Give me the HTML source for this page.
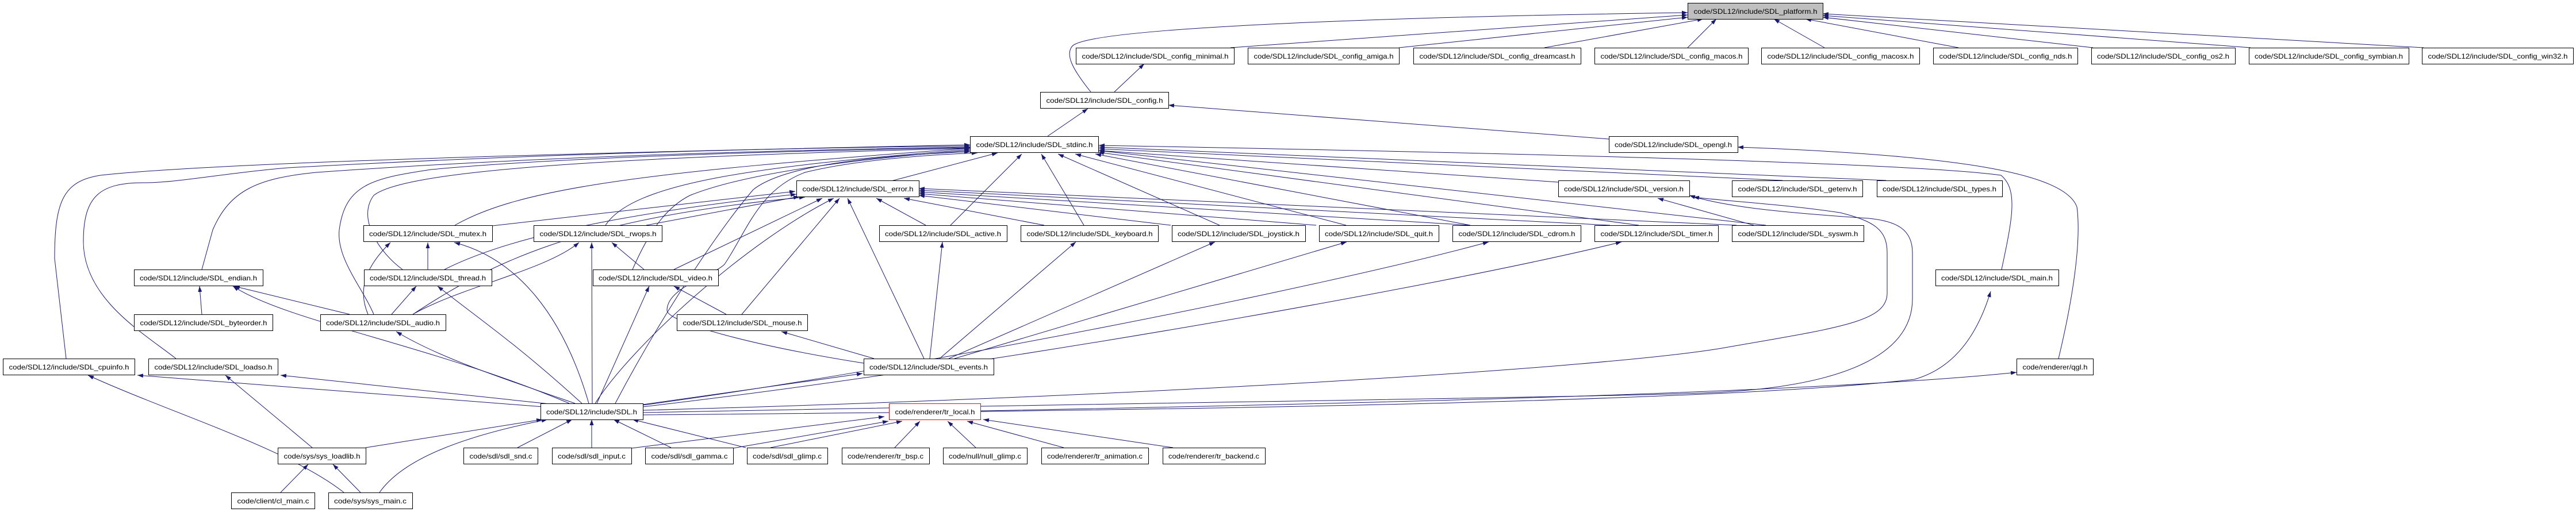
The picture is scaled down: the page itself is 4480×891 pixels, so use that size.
<!DOCTYPE html>
<html><head><meta charset="utf-8"><style>
html,body{margin:0;padding:0;background:#fff;}
svg{display:block;}
text{font-family:"Liberation Sans",sans-serif;font-size:12px;fill:#000;}
</style></head><body>
<svg width="4480" height="891" viewBox="0 0 4480 891" xmlns="http://www.w3.org/2000/svg">
<defs><marker id="a" markerWidth="10" markerHeight="7" refX="10" refY="3.5" orient="auto" markerUnits="userSpaceOnUse"><path d="M0,0 L10,3.5 L0,7 z" fill="#191970"/></marker></defs>
<g fill="none" stroke="#191970" stroke-width="1" marker-end="url(#a)">
<path d="M2140,83 L2935,26"/><path d="M2433,83 L2935,30"/><path d="M2686,83 L2962,33"/><path d="M2935,83 L2985,33"/>
<path d="M3173,83 L3085,33"/><path d="M3406,83 L3140,33"/><path d="M3640,83 L3170,30"/><path d="M3914,83 L3170,27"/><path d="M4215,83 L3170,24"/>
<path d="M1897,160 C1865,120 1852,95 1865,80 C1900,45 2500,28 2935,22"/>
<path d="M1938,160 L1990,111"/><path d="M1822,237 L1892,189"/><path d="M2798,242 L2032,183"/>
<path d="M3580,624 C3605,520 3620,420 3612,360 C3590,300 3400,270 3022,256"/>
<path d="M1550,315 L1735,266"/><path d="M1653,392 L1777,268"/><path d="M1885,392 L1811,268"/><path d="M2121,392 L1840,268"/>
<path d="M2341,392 L1870,268"/><path d="M2557,392 L1905,268"/><path d="M2850,392 L1910,265"/><path d="M3071,392 L1910,262"/>
<path d="M2710,317 L1911,262"/><path d="M3100,314 L1911,259"/><path d="M3280,314 L1911,256"/>
<path d="M3481,469 C3500,380 3510,330 3480,305 C3300,280 2400,262 1911,253"/>
<path d="M791,392 C900,330 1100,300 1687,258"/><path d="M1053,392 C1100,320 1300,290 1687,260"/>
<path d="M115,624 L95,450 C95,350 110,315 175,305 C400,280 1200,262 1687,252"/>
<path d="M306,624 C250,580 145,520 145,420 C145,340 175,318 250,318 C310,318 400,300 500,292 C900,270 1300,258 1687,254"/>
<path d="M351,469 L370,400 C400,330 450,310 550,300 C900,275 1300,262 1687,256"/>
<path d="M650,547 C630,500 585,450 590,400 C600,320 650,310 750,295 C1000,272 1400,262 1687,257"/>
<path d="M700,469 C660,440 620,380 650,340 C700,300 1000,275 1687,258"/>
<path d="M1100,469 C1130,400 1160,360 1200,340 C1300,300 1500,275 1687,262"/>
<path d="M1070,702 C1150,550 1250,400 1310,330 C1360,290 1500,272 1687,264"/>
<path d="M1502,632 C1300,600 1160,560 1160,540 C1160,500 1240,480 1260,460 C1300,400 1320,330 1400,300 C1500,275 1650,268 1700,266"/>
<path d="M856,393 L1383,333"/><path d="M1124,392 L1390,342"/><path d="M773,469 C850,430 1000,380 1385,338"/>
<path d="M718,547 C850,460 1000,380 1400,343"/><path d="M1172,469 L1430,345"/><path d="M1035,702 C1100,600 1300,420 1450,345"/>
<path d="M1290,547 L1460,345"/><path d="M1607,624 L1474,345"/><path d="M1610,392 L1524,345"/><path d="M1816,392 L1572,345"/>
<path d="M2036,392 L1598,340"/><path d="M2289,392 L1598,337"/><path d="M2557,392 L1598,334"/><path d="M2800,392 L1598,331"/><path d="M3020,392 L1598,328"/>
<path d="M3050,392 L2883,345"/>
<path d="M1118,714 C2000,690 2800,640 3000,605 C3200,570 3282,560 3282,510 L3282,440 C3282,400 3260,385 3200,370 C3100,355 3000,350 2945,343"/>
<path d="M1118,718 C2000,700 2900,690 3000,682 C3200,670 3326,620 3326,520 L3326,440 C3326,400 3300,385 3250,380 C3100,370 3000,360 2938,340"/>
<path d="M1118,722 C2000,715 3000,700 3330,660 C3400,640 3440,580 3462,507"/>
<path d="M1617,624 L1639,421"/><path d="M1634,624 L1871,421"/><path d="M1650,624 L2113,421"/><path d="M1660,624 L2342,421"/><path d="M1520,624 L1359,577"/>
<path d="M1118,705 C1600,640 2300,500 2589,421"/><path d="M1118,708 C1700,640 2500,500 2820,421"/><path d="M1118,704 L1500,650"/>
<path d="M971,710 L239,653"/><path d="M975,705 L488,653"/><path d="M990,702 C750,600 500,560 405,498"/>
<path d="M1000,702 C850,650 760,620 689,577"/><path d="M1012,702 C900,600 840,560 761,498"/><path d="M1024,702 C980,550 900,450 790,422"/>
<path d="M1038,702 L1129,498"/><path d="M1030,702 L1029,422"/>
<path d="M718,547 C800,500 950,470 1007,422"/><path d="M1120,469 L1064,422"/>
<path d="M744,469 L744,422"/><path d="M640,547 C620,500 640,460 679,422"/>
<path d="M351,547 L347,498"/><path d="M608,547 L407,498"/><path d="M681,547 L724,498"/><path d="M1263,547 L1172,498"/>
<path d="M636,779 L943,730"/><path d="M660,857 C700,800 800,760 952,730"/><path d="M900,779 L995,730"/>
<path d="M1029,779 L1029,730"/><path d="M1167,779 L1067,730"/><path d="M1297,779 L1100,730"/>
<path d="M543,779 L392,653"/><path d="M488,857 L536,808"/><path d="M627,857 L579,808"/>
<path d="M598,857 C500,780 300,720 153,653"/>
<path d="M1098,780 L1538,725"/><path d="M1275,780 L1545,733"/><path d="M1340,779 L1569,733"/><path d="M1556,779 L1600,733"/>
<path d="M1697,779 L1648,733"/><path d="M1850,779 L1682,733"/><path d="M2040,779 L1710,730"/>
<path d="M1705,715 C2500,700 3200,680 3507,648"/>
</g>
<g stroke="#000" stroke-width="1">
<rect x="2935.5" y="5.5" width="235" height="28" fill="#bfbfbf"/>
<g fill="#fff">
<rect x="1871.5" y="83.5" width="275" height="28"/><rect x="2170.5" y="83.5" width="263" height="28"/>
<rect x="2458.5" y="83.5" width="291" height="28"/><rect x="2773.5" y="83.5" width="267" height="28"/>
<rect x="3063.5" y="83.5" width="275" height="28"/><rect x="3362.5" y="83.5" width="251" height="28"/>
<rect x="3637.5" y="83.5" width="250" height="28"/><rect x="3911.5" y="83.5" width="278" height="28"/>
<rect x="4212.5" y="83.5" width="263" height="28"/>
<rect x="1809.5" y="160.5" width="223" height="28"/>
<rect x="1687.5" y="237.5" width="223" height="28"/><rect x="2798.5" y="237.5" width="224" height="28"/>
<rect x="1385.5" y="314.5" width="213" height="28"/><rect x="2710.5" y="314.5" width="228" height="28"/>
<rect x="3012.5" y="314.5" width="227" height="28"/><rect x="3264.5" y="314.5" width="218" height="28"/>
<rect x="632.5" y="392.5" width="224" height="28"/><rect x="928.5" y="392.5" width="223" height="28"/>
<rect x="1529.5" y="392.5" width="222" height="28"/><rect x="1775.5" y="392.5" width="239" height="28"/>
<rect x="2038.5" y="392.5" width="232" height="28"/><rect x="2294.5" y="392.5" width="208" height="28"/>
<rect x="2526.5" y="392.5" width="223" height="28"/><rect x="2773.5" y="392.5" width="215" height="28"/>
<rect x="3012.5" y="392.5" width="229" height="28"/>
<rect x="233.5" y="469.5" width="224" height="28"/><rect x="633.5" y="469.5" width="222" height="28"/>
<rect x="1031.5" y="469.5" width="218" height="28"/><rect x="3366.5" y="469.5" width="214" height="28"/>
<rect x="233.5" y="547.5" width="241" height="28"/><rect x="557.5" y="547.5" width="218" height="28"/>
<rect x="1177.5" y="547.5" width="227" height="28"/>
<rect x="5.5" y="624.5" width="229" height="28"/><rect x="258.5" y="624.5" width="225" height="28"/>
<rect x="1502.5" y="624.5" width="226" height="28"/><rect x="3507.5" y="624.5" width="133" height="28"/>
<rect x="940.5" y="702.5" width="178" height="28"/>
<rect x="1546.5" y="702.5" width="159" height="28" stroke="#f00"/>
<rect x="483.5" y="779.5" width="153" height="28"/><rect x="806.5" y="779.5" width="129" height="28"/>
<rect x="960.5" y="779.5" width="138" height="28"/><rect x="1122.5" y="779.5" width="153" height="28"/>
<rect x="1299.5" y="779.5" width="140" height="28"/><rect x="1464.5" y="779.5" width="152" height="28"/>
<rect x="1640.5" y="779.5" width="146" height="28"/><rect x="1811.5" y="779.5" width="186" height="28"/>
<rect x="2022.5" y="779.5" width="178" height="28"/>
<rect x="402.5" y="857.5" width="145" height="28"/><rect x="571.5" y="857.5" width="146" height="28"/>
</g></g>
<g text-anchor="middle" lengthAdjust="spacingAndGlyphs">
<text x="3053" y="24" textLength="215" lengthAdjust="spacingAndGlyphs">code/SDL12/include/SDL_platform.h</text>
<text x="2009" y="102" textLength="255" lengthAdjust="spacingAndGlyphs">code/SDL12/include/SDL_config_minimal.h</text>
<text x="2302" y="102" textLength="243" lengthAdjust="spacingAndGlyphs">code/SDL12/include/SDL_config_amiga.h</text>
<text x="2604" y="102" textLength="271" lengthAdjust="spacingAndGlyphs">code/SDL12/include/SDL_config_dreamcast.h</text>
<text x="2907" y="102" textLength="247" lengthAdjust="spacingAndGlyphs">code/SDL12/include/SDL_config_macos.h</text>
<text x="3201" y="102" textLength="255" lengthAdjust="spacingAndGlyphs">code/SDL12/include/SDL_config_macosx.h</text>
<text x="3488" y="102" textLength="231" lengthAdjust="spacingAndGlyphs">code/SDL12/include/SDL_config_nds.h</text>
<text x="3762" y="102" textLength="230" lengthAdjust="spacingAndGlyphs">code/SDL12/include/SDL_config_os2.h</text>
<text x="4050" y="102" textLength="258" lengthAdjust="spacingAndGlyphs">code/SDL12/include/SDL_config_symbian.h</text>
<text x="4344" y="102" textLength="243" lengthAdjust="spacingAndGlyphs">code/SDL12/include/SDL_config_win32.h</text>
<text x="1921" y="179" textLength="203" lengthAdjust="spacingAndGlyphs">code/SDL12/include/SDL_config.h</text>
<text x="1799" y="256" textLength="203" lengthAdjust="spacingAndGlyphs">code/SDL12/include/SDL_stdinc.h</text>
<text x="2910" y="256" textLength="204" lengthAdjust="spacingAndGlyphs">code/SDL12/include/SDL_opengl.h</text>
<text x="1492" y="333" textLength="193" lengthAdjust="spacingAndGlyphs">code/SDL12/include/SDL_error.h</text>
<text x="2824" y="333" textLength="208" lengthAdjust="spacingAndGlyphs">code/SDL12/include/SDL_version.h</text>
<text x="3126" y="333" textLength="207" lengthAdjust="spacingAndGlyphs">code/SDL12/include/SDL_getenv.h</text>
<text x="3373" y="333" textLength="198" lengthAdjust="spacingAndGlyphs">code/SDL12/include/SDL_types.h</text>
<text x="744" y="411" textLength="204" lengthAdjust="spacingAndGlyphs">code/SDL12/include/SDL_mutex.h</text>
<text x="1040" y="411" textLength="203" lengthAdjust="spacingAndGlyphs">code/SDL12/include/SDL_rwops.h</text>
<text x="1640" y="411" textLength="202" lengthAdjust="spacingAndGlyphs">code/SDL12/include/SDL_active.h</text>
<text x="1895" y="411" textLength="219" lengthAdjust="spacingAndGlyphs">code/SDL12/include/SDL_keyboard.h</text>
<text x="2154" y="411" textLength="212" lengthAdjust="spacingAndGlyphs">code/SDL12/include/SDL_joystick.h</text>
<text x="2398" y="411" textLength="188" lengthAdjust="spacingAndGlyphs">code/SDL12/include/SDL_quit.h</text>
<text x="2638" y="411" textLength="203" lengthAdjust="spacingAndGlyphs">code/SDL12/include/SDL_cdrom.h</text>
<text x="2881" y="411" textLength="195" lengthAdjust="spacingAndGlyphs">code/SDL12/include/SDL_timer.h</text>
<text x="3127" y="411" textLength="209" lengthAdjust="spacingAndGlyphs">code/SDL12/include/SDL_syswm.h</text>
<text x="345" y="488" textLength="204" lengthAdjust="spacingAndGlyphs">code/SDL12/include/SDL_endian.h</text>
<text x="744" y="488" textLength="202" lengthAdjust="spacingAndGlyphs">code/SDL12/include/SDL_thread.h</text>
<text x="1140" y="488" textLength="198" lengthAdjust="spacingAndGlyphs">code/SDL12/include/SDL_video.h</text>
<text x="3473" y="488" textLength="194" lengthAdjust="spacingAndGlyphs">code/SDL12/include/SDL_main.h</text>
<text x="354" y="566" textLength="221" lengthAdjust="spacingAndGlyphs">code/SDL12/include/SDL_byteorder.h</text>
<text x="666" y="566" textLength="198" lengthAdjust="spacingAndGlyphs">code/SDL12/include/SDL_audio.h</text>
<text x="1291" y="566" textLength="207" lengthAdjust="spacingAndGlyphs">code/SDL12/include/SDL_mouse.h</text>
<text x="120" y="643" textLength="209" lengthAdjust="spacingAndGlyphs">code/SDL12/include/SDL_cpuinfo.h</text>
<text x="371" y="643" textLength="205" lengthAdjust="spacingAndGlyphs">code/SDL12/include/SDL_loadso.h</text>
<text x="1615" y="643" textLength="206" lengthAdjust="spacingAndGlyphs">code/SDL12/include/SDL_events.h</text>
<text x="3574" y="643" textLength="113" lengthAdjust="spacingAndGlyphs">code/renderer/qgl.h</text>
<text x="1029" y="721" textLength="158" lengthAdjust="spacingAndGlyphs">code/SDL12/include/SDL.h</text>
<text x="1626" y="721" textLength="139" lengthAdjust="spacingAndGlyphs">code/renderer/tr_local.h</text>
<text x="560" y="798" textLength="133" lengthAdjust="spacingAndGlyphs">code/sys/sys_loadlib.h</text>
<text x="871" y="798" textLength="109" lengthAdjust="spacingAndGlyphs">code/sdl/sdl_snd.c</text>
<text x="1029" y="798" textLength="118" lengthAdjust="spacingAndGlyphs">code/sdl/sdl_input.c</text>
<text x="1199" y="798" textLength="133" lengthAdjust="spacingAndGlyphs">code/sdl/sdl_gamma.c</text>
<text x="1369" y="798" textLength="120" lengthAdjust="spacingAndGlyphs">code/sdl/sdl_glimp.c</text>
<text x="1540" y="798" textLength="132" lengthAdjust="spacingAndGlyphs">code/renderer/tr_bsp.c</text>
<text x="1713" y="798" textLength="126" lengthAdjust="spacingAndGlyphs">code/null/null_glimp.c</text>
<text x="1904" y="798" textLength="166" lengthAdjust="spacingAndGlyphs">code/renderer/tr_animation.c</text>
<text x="2111" y="798" textLength="158" lengthAdjust="spacingAndGlyphs">code/renderer/tr_backend.c</text>
<text x="475" y="876" textLength="125" lengthAdjust="spacingAndGlyphs">code/client/cl_main.c</text>
<text x="644" y="876" textLength="126" lengthAdjust="spacingAndGlyphs">code/sys/sys_main.c</text>
</g>
</svg>
</body></html>
